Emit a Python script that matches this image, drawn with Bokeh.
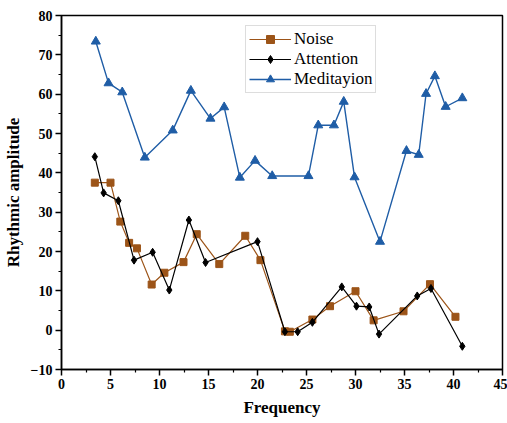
from bokeh.plotting import figure
from bokeh.models import Range1d, FixedTicker, Legend, LegendItem
from bokeh.embed import file_html
from bokeh.resources import INLINE

noise_x = [3.4, 5.0, 6.0, 6.9, 7.7, 9.2, 10.5, 12.45, 13.8, 16.1, 18.75, 20.3, 22.8, 23.3, 25.6, 27.4, 30.0, 31.85, 34.9, 37.6, 40.2]
noise_y = [37.5, 37.5, 27.6, 22.2, 20.8, 11.6, 14.6, 17.3, 24.4, 16.8, 24.0, 17.8, -0.3, -0.4, 2.7, 6.1, 9.9, 2.5, 4.8, 11.7, 3.4]

att_x = [3.4, 4.3, 5.8, 7.4, 9.3, 11.0, 13.0, 14.7, 20.0, 22.8, 24.1, 25.6, 28.6, 30.1, 31.4, 32.4, 36.3, 37.7, 40.9]
att_y = [44.1, 34.9, 32.9, 17.8, 19.8, 10.2, 28.0, 17.2, 22.5, -0.4, -0.4, 2.0, 11.0, 6.1, 5.9, -1.0, 8.7, 10.6, -4.1]

med_x = [3.5, 4.8, 6.2, 8.5, 11.35, 13.2, 15.2, 16.6, 18.2, 19.75, 21.5, 25.2, 26.2, 27.8, 28.8, 29.9, 32.5, 35.2, 36.45, 37.2, 38.1, 39.2, 40.9]
med_y = [73.4, 62.8, 60.5, 43.9, 50.8, 60.9, 53.8, 56.7, 38.8, 43.1, 39.2, 39.2, 52.1, 52.1, 58.1, 38.9, 22.5, 45.6, 44.6, 60.1, 64.6, 56.8, 59.0]

x_ticks = [0, 5, 10, 15, 20, 25, 30, 35, 40, 45]
y_ticks = [-10, 0, 10, 20, 30, 40, 50, 60, 70, 80]

FONT = "Liberation Serif"
c_noise = "#9C5418"
c_att = "#000000"
c_med = "#1F5DA6"

p = figure(width=507, height=423, output_backend="svg", toolbar_location=None,
           x_range=Range1d(0, 45), y_range=Range1d(-10, 80),
           min_border_left=60, min_border_right=5, min_border_top=15, min_border_bottom=54)
p.xgrid.visible = False
p.ygrid.visible = False
p.outline_line_color = "black"
p.outline_line_width = 1.5

l1 = p.line(noise_x, noise_y, line_color=c_noise, line_width=1.2)
m1 = p.scatter(noise_x, noise_y, marker="square", size=7, fill_color=c_noise, line_color=c_noise)
l2 = p.line(att_x, att_y, line_color=c_att, line_width=1.2)
m2 = p.scatter(att_x, att_y, marker="diamond", size=8, fill_color=c_att, line_color=c_att)
l3 = p.line(med_x, med_y, line_color=c_med, line_width=1.4)
m3 = p.scatter(med_x, med_y, marker="triangle", size=9, fill_color=c_med, line_color=c_med)

for ax in (p.xaxis[0], p.yaxis[0]):
    ax.major_label_text_font = FONT
    ax.major_label_text_font_style = "bold"
    ax.major_label_text_font_size = "14px"
    ax.major_label_text_color = "black"
    ax.axis_line_width = 1.5
    ax.axis_line_color = "black"
    ax.major_tick_line_width = 1.5
    ax.minor_tick_line_width = 1.2
    ax.major_tick_out = 6
    ax.major_tick_in = 0
    ax.minor_tick_out = 3
    ax.minor_tick_in = 0
    ax.major_label_standoff = 3
    ax.axis_label_text_font = FONT
    ax.axis_label_text_font_style = "bold"
    ax.axis_label_text_font_size = "17px"
    ax.axis_label_text_color = "black"

p.xaxis[0].ticker = FixedTicker(ticks=x_ticks, minor_ticks=[2.5 + 5 * i for i in range(9)])
p.yaxis[0].ticker = FixedTicker(ticks=y_ticks, minor_ticks=[-5 + 10 * i for i in range(9)])
p.xaxis.axis_label = "Frequency"
p.yaxis.axis_label = "Rhythmic amplitude"
p.xaxis.axis_label_standoff = 6
p.yaxis.axis_label_standoff = 5

legend = Legend(items=[LegendItem(label="Noise", renderers=[l1, m1]),
                       LegendItem(label="Attention", renderers=[l2, m2]),
                       LegendItem(label="Meditayion", renderers=[l3, m3])],
                location=(184, 276))
legend.label_text_font = FONT
legend.label_text_font_size = "17px"
legend.label_text_color = "black"
legend.border_line_color = "#BBBBBB"
legend.border_line_width = 1
legend.padding = 3
legend.margin = 0
legend.spacing = 0
legend.glyph_width = 42
legend.glyph_height = 20
legend.label_standoff = 3
legend.label_height = 20
legend.background_fill_alpha = 1
p.add_layout(legend)

open("out.html", "w").write(file_html(p, INLINE))
